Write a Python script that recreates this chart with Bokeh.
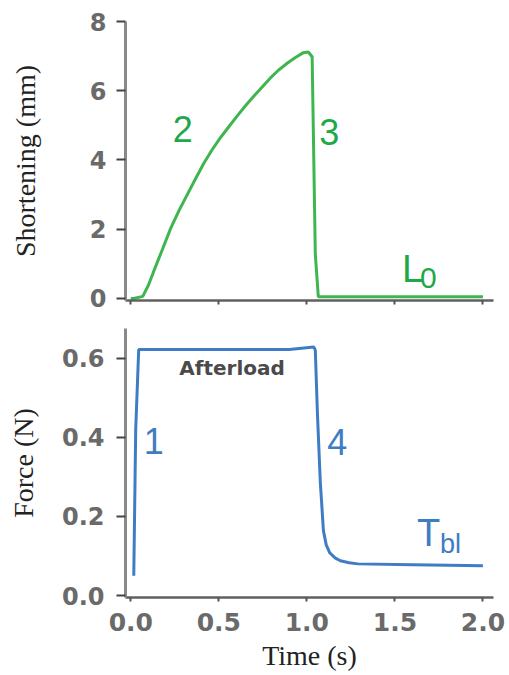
from bokeh.plotting import figure
from bokeh.layouts import column
from bokeh.models import Range1d, Label, FixedTicker
from bokeh.embed import file_html
from bokeh.resources import INLINE

# ---- data ----
t_short = [0.0, 0.017, 0.068, 0.1, 0.13, 0.18, 0.227, 0.275, 0.323, 0.37, 0.414,
           0.46, 0.51, 0.56, 0.606, 0.65, 0.697, 0.745, 0.793, 0.84, 0.89, 0.935,
           0.98, 1.008, 1.03, 1.048, 1.065, 1.5, 2.0]
shortening = [0.0, 0.0, 0.06, 0.38, 0.78, 1.42, 2.03, 2.55, 3.02, 3.48, 3.9,
              4.28, 4.65, 4.98, 5.28, 5.56, 5.83, 6.1, 6.37, 6.6, 6.8, 6.96,
              7.1, 7.12, 6.98, 1.28, 0.05, 0.05, 0.05]

t_force = [0.017, 0.028, 0.045, 0.3, 0.6, 0.9, 1.04, 1.048, 1.06, 1.076,
           1.094, 1.11, 1.13, 1.16, 1.19, 1.24, 1.29, 1.6, 2.0]
force = [0.05, 0.42, 0.622, 0.622, 0.622, 0.622, 0.628, 0.62, 0.46, 0.29,
         0.164, 0.128, 0.108, 0.095, 0.088, 0.083, 0.08, 0.078, 0.075]

x_ticks = [0.0, 0.5, 1.0, 1.5, 2.0]
x_tick_labels = ["0.0", "0.5", "1.0", "1.5", "2.0"]
short_ticks = [0, 2, 4, 6, 8]
force_ticks = [0.0, 0.2, 0.4, 0.6]
force_tick_labels = ["0.0", "0.2", "0.4", "0.6"]

GREEN_LINE = "#3fb54f"
GREEN_TEXT = "#1fa84a"
BLUE_LINE = "#3f7cc4"
BLUE_TEXT = "#3f7cc4"
AXIS_GRAY = "#8a8a8a"
TICK_LABEL = "#6a6a6a"

x_range = Range1d(-0.03, 2.06)


def style_common(p):
    p.grid.visible = False
    p.outline_line_color = None
    p.background_fill_color = "white"
    p.border_fill_color = "white"
    for ax in p.yaxis:
        ax.axis_line_color = AXIS_GRAY
        ax.axis_line_width = 3
        ax.major_tick_line_color = "#444444"
        ax.major_tick_line_width = 2
        ax.major_tick_out = 9
        ax.major_tick_in = 0
        ax.minor_tick_line_color = None
        ax.major_label_text_font = "DejaVu Sans"
        ax.major_label_text_font_style = "bold"
        ax.major_label_text_font_size = "24px"
        ax.major_label_text_color = TICK_LABEL
        ax.axis_label_text_font = "Liberation Serif"
        ax.axis_label_text_font_style = "normal"
        ax.axis_label_text_font_size = "28px"
        ax.axis_label_text_color = "#222222"
    for ax in p.xaxis:
        ax.axis_line_color = "#606060"
        ax.axis_line_width = 2.5
        ax.major_tick_line_color = "#555555"
        ax.major_tick_line_width = 2
        ax.major_tick_out = 4
        ax.major_tick_in = 0
        ax.minor_tick_line_color = None
        ax.ticker = FixedTicker(ticks=x_ticks)


# ---- top panel ----
p1 = figure(width=509, height=314, x_range=x_range, y_range=Range1d(-0.06, 8.0),
            output_backend="svg", toolbar_location=None,
            min_border_left=125, min_border_right=16, min_border_top=21,
            min_border_bottom=14)
p1.line(t_short, shortening, line_color=GREEN_LINE, line_width=3)
style_common(p1)
p1.yaxis.ticker = FixedTicker(ticks=short_ticks)
p1.yaxis.axis_label = "Shortening (mm)"
p1.yaxis.major_label_standoff = 10
p1.yaxis.axis_label_standoff = 46
p1.xaxis.major_label_text_font_size = "1px"
p1.xaxis.major_label_text_color = None
p1.xaxis.major_label_standoff = 0

num_font = "Liberation Sans"
p1.add_layout(Label(x=0.295, y=4.9, text="2", text_align="center", text_baseline="middle",
                    text_font=num_font, text_font_size="36px", text_color=GREEN_TEXT))
p1.add_layout(Label(x=1.127, y=4.8, text="3", text_align="center", text_baseline="middle",
                    text_font=num_font, text_font_size="36px", text_color=GREEN_TEXT))
p1.add_layout(Label(x=1.541, y=0.84, text="L", text_align="left", text_baseline="alphabetic",
                    text_font=num_font, text_font_size="38px", text_color=GREEN_TEXT))
p1.add_layout(Label(x=1.643, y=0.58, text="0", text_align="left", text_baseline="alphabetic",
                    text_font=num_font, text_font_size="30px", text_color=GREEN_TEXT))

# ---- bottom panel ----
p2 = figure(width=509, height=361, x_range=x_range, y_range=Range1d(-0.005, 0.675),
            output_backend="svg", toolbar_location=None,
            min_border_left=125, min_border_right=16, min_border_top=14,
            min_border_bottom=78)
p2.line(t_force, force, line_color=BLUE_LINE, line_width=3)
style_common(p2)
p2.yaxis.ticker = FixedTicker(ticks=force_ticks)
p2.yaxis.major_label_overrides = {v: s for v, s in zip(force_ticks, force_tick_labels)}
p2.yaxis.axis_label = "Force (N)"
p2.yaxis.major_label_standoff = 12
p2.yaxis.axis_label_standoff = 20
p2.xaxis.major_label_overrides = {v: s for v, s in zip(x_ticks, x_tick_labels)}
p2.xaxis.major_label_text_font = "DejaVu Sans"
p2.xaxis.major_label_text_font_style = "bold"
p2.xaxis.major_label_text_font_size = "25px"
p2.xaxis.major_label_text_color = TICK_LABEL
p2.xaxis.major_label_standoff = 11
p2.xaxis.axis_label = "Time (s)"
p2.xaxis.axis_label_text_font = "Liberation Serif"
p2.xaxis.axis_label_text_font_style = "normal"
p2.xaxis.axis_label_text_font_size = "28px"
p2.xaxis.axis_label_text_color = "#222222"
p2.xaxis.axis_label_standoff = 6

p2.add_layout(Label(x=0.13, y=0.391, text="1", text_align="center", text_baseline="middle",
                    text_font=num_font, text_font_size="36px", text_color=BLUE_TEXT))
p2.add_layout(Label(x=1.173, y=0.389, text="4", text_align="center", text_baseline="middle",
                    text_font=num_font, text_font_size="36px", text_color=BLUE_TEXT))
p2.add_layout(Label(x=1.626, y=0.157, text="T", text_align="left", text_baseline="alphabetic",
                    text_font=num_font, text_font_size="38px", text_color=BLUE_TEXT))
p2.add_layout(Label(x=1.756, y=0.131, text="bl", text_align="left", text_baseline="alphabetic",
                    text_font=num_font, text_font_size="27px", text_color=BLUE_TEXT))
p2.add_layout(Label(x=0.575, y=0.574, text="Afterload", text_align="center", text_baseline="middle",
                    text_font="DejaVu Sans", text_font_style="bold", text_font_size="20px",
                    text_color="#4a4a4a"))

layout = column(p1, p2)
open("out.html", "w").write(file_html(layout, INLINE))
